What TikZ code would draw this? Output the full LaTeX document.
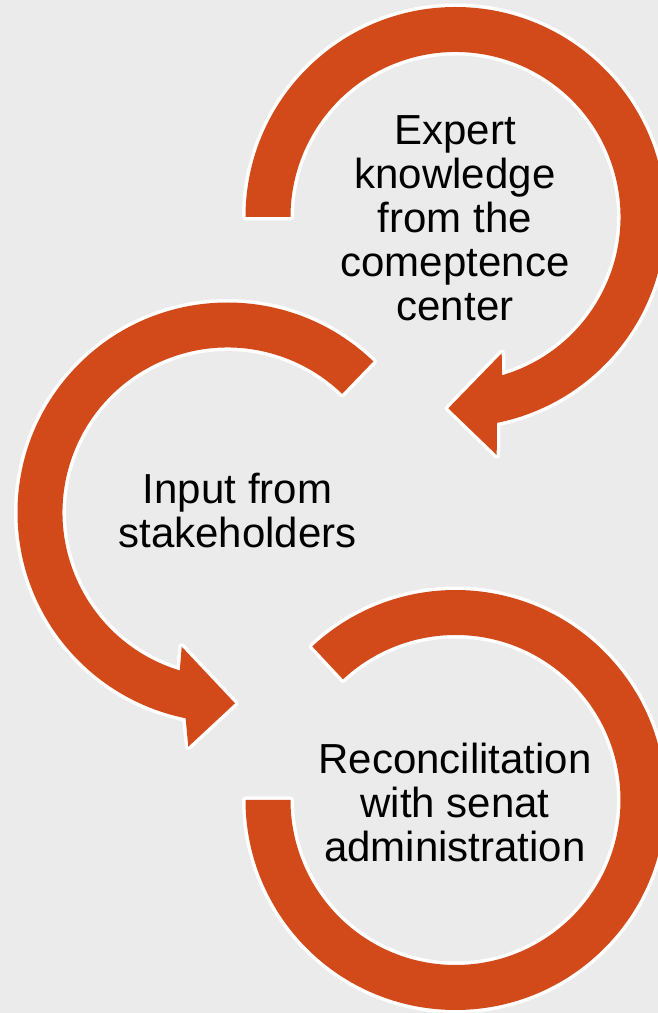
\documentclass[tikz,border=0pt]{standalone}
\usepackage{fontspec}
\setmainfont{Liberation Sans}
\usetikzlibrary{calc}
\definecolor{bgcol}{HTML}{EBEBEB}
\definecolor{arrowcol}{HTML}{D24A1A}
\begin{document}
\begin{tikzpicture}[x=1pt,y=1pt,
  ringarrow/.style={fill=arrowcol, preaction={draw=white, line width=7pt, line join=round}},
  label/.style={font=\fontsize{42}{44}\selectfont, text=black, align=center, inner sep=0pt, anchor=north}]
\path[fill=bgcol] (0,0) rectangle (658,1013);
\clip (0,0) rectangle (658,1013);
\coordinate (C1) at (455.5,796);
\coordinate (C2) at (227.5,500.5);
\coordinate (C3) at (455.5,213);
% top ring arrow
\path[ringarrow] ($(C1)+(180:210)$) arc[start angle=180, end angle=-78.6, radius=210]
  -- (496.7,558) -- (448.3,604.7) -- (501.7,659.7)
  -- ($(C1)+(-73.6:165)$) arc[start angle=-73.6, end angle=180, radius=165] -- cycle;
% left ring arrow
\path[ringarrow] ($(C2)+(46:210)$) arc[start angle=46, end angle=258.5, radius=210]
  -- (188.3,266.3) -- (235,309.7) -- (181.7,366.3)
  -- ($(C2)+(253.2:165)$) arc[start angle=253.2, end angle=46, radius=165] -- cycle;
% bottom ring
\path[ringarrow] ($(C3)+(133:210)$) arc[start angle=133, end angle=-180, radius=210]
  -- ($(C3)+(-180:165)$) arc[start angle=-180, end angle=133, radius=165] -- cycle;
\node[label] (expert) at (455,898) {Expert\\knowledge\\from the\\comeptence\\center};
\node[label] (input) at (237.5,540.5) {Input from\\stakeholders};
\node[label] (recon) at (455,270.3) {Reconcilitation\\with senat\\administration};
\end{tikzpicture}
\end{document}
